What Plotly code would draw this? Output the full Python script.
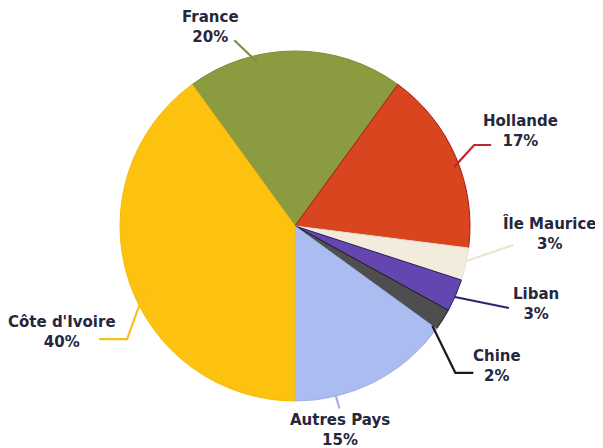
import math
import plotly.graph_objects as go

# ---- data ----
countries = ["France", "Hollande", "Île Maurice", "Liban", "Chine", "Autres Pays", "Côte d'Ivoire"]
shares = [20, 17, 3, 3, 2, 15, 40]
share_labels = ["20%", "17%", "3%", "3%", "2%", "15%", "40%"]

# ---- style ----
OFF = 8  # page body margin in the browser
W, H = 603 - OFF, 448 - OFF
CX, CY, R = 295, 226, 175
START_ANGLE = -36  # clockwise degrees from 12 o'clock where first slice starts
fill_colors = ["#8b9b3f", "#d9451f", "#f3ebdc", "#6545b0", "#4f4e4e", "#aabcf0", "#fdc210"]
edge_colors = ["#7d8c38", "#a8171a", "#e9e0cc", "#2a1d5c", "#1e1e1e", "#9fb1e6", "#f6bb0b"]
line_colors = ["#7f9040", "#c0252a", "#ebe4d2", "#2b2470", "#1a1a1a", "#a3b1e2", "#f7c21a"]
text_color = "#26263c"
# per slice: fraction within slice for the leader start, radius factor,
# elbow offset (px, relative to start), end offset (relative to elbow), label centre (px)
leader_style = [
    dict(frac=0.32, rf=0.96, elbow=(-23, -22), end=(0, 0), label=(210, 27)),
    dict(frac=0.55, rf=0.97, elbow=(20, -22), end=(17, 0), label=(520, 131)),
    dict(frac=0.40, rf=1.00, elbow=(47, -16), end=(0, 0), label=(549, 233)),
    dict(frac=0.55, rf=1.00, elbow=(54, 11), end=(0, 0), label=(536, 304)),
    dict(frac=1.00, rf=0.97, elbow=(23, 47), end=(18, 0), label=(497, 366)),
    dict(frac=0.75, rf=0.99, elbow=(4, 14), end=(0, 0), label=(340, 430)),
    dict(frac=0.47, rf=0.92, elbow=(-19, 52), end=(-28, 0), label=(62, 332)),
]


def px_to_paper(x, y):
    return (x - OFF) / W, 1 - (y - OFF) / H


fig = go.Figure()
d_x0, d_y1 = px_to_paper(CX - R, CY - R)
d_x1, d_y0 = px_to_paper(CX + R, CY + R)
fig.add_trace(go.Pie(
    labels=countries,
    values=shares,
    sort=False,
    direction="clockwise",
    rotation=START_ANGLE,
    textinfo="none",
    hoverinfo="label+percent",
    marker=dict(colors=fill_colors, line=dict(color=edge_colors, width=1)),
    domain=dict(x=[d_x0, d_x1], y=[d_y0, d_y1]),
    showlegend=False,
))

total = sum(shares)
cum = 0
for i, (name, val, lab) in enumerate(zip(countries, shares, share_labels)):
    st = leader_style[i]
    a0 = START_ANGLE + 360 * cum / total
    a1 = START_ANGLE + 360 * (cum + val) / total
    cum += val
    ang = math.radians(a0 + st["frac"] * (a1 - a0))
    r = R * st["rf"]
    sx, sy = CX + r * math.sin(ang), CY - r * math.cos(ang)
    ex, ey = sx + st["elbow"][0], sy + st["elbow"][1]
    fx, fy = ex + st["end"][0], ey + st["end"][1]
    p0 = px_to_paper(sx, sy)
    p1 = px_to_paper(ex, ey)
    p2 = px_to_paper(fx, fy)
    path = f"M {p0[0]} {p0[1]} L {p1[0]} {p1[1]} L {p2[0]} {p2[1]}"
    fig.add_shape(type="path", path=path, xref="paper", yref="paper",
                  line=dict(color=line_colors[i], width=2.2))
    lx, ly = px_to_paper(*st["label"])
    fig.add_annotation(x=lx, y=ly, xref="paper", yref="paper", showarrow=False,
                       text=f"{name}<br>{lab}", align="center",
                       xanchor="center", yanchor="middle",
                       font=dict(family="DejaVu Sans", size=15, color=text_color, weight=700))

fig.update_layout(
    width=W, height=H,
    margin=dict(l=0, r=0, t=0, b=0),
    paper_bgcolor="white", plot_bgcolor="white",
)
fig.write_html("out.html")
